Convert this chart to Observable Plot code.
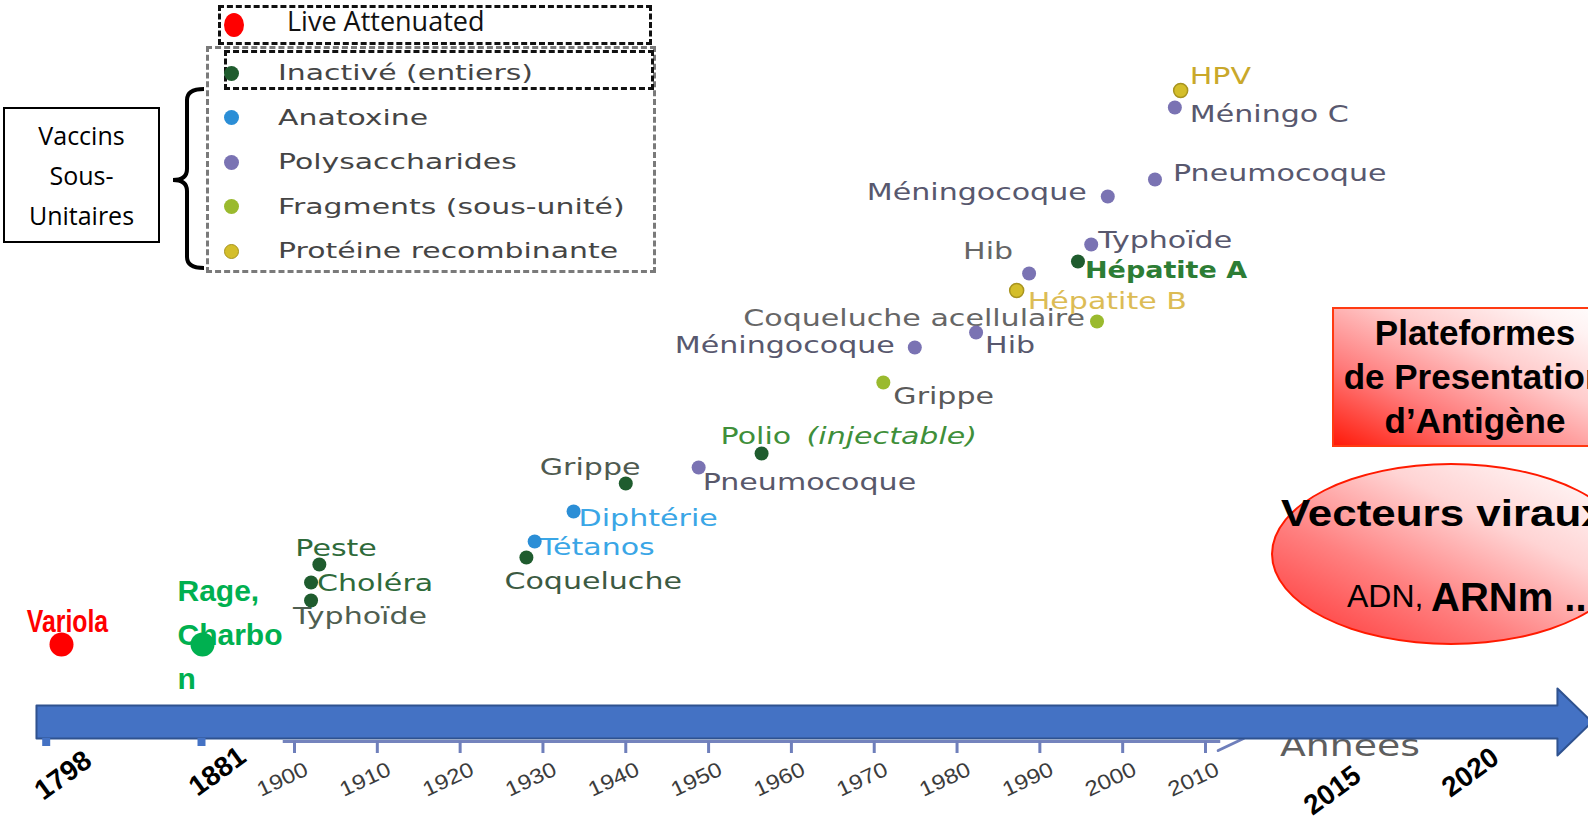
<!DOCTYPE html>
<html>
<head>
<meta charset="utf-8">
<script src="https://cdn.jsdelivr.net/npm/d3@7"></script>
<script src="https://cdn.jsdelivr.net/npm/@observablehq/plot@0.6"></script>
<style>
*{box-sizing:border-box}
html,body{margin:0;padding:0;background:#fff;overflow:hidden}
#wrap{position:relative;width:1588px;height:816px;overflow:hidden;background:#fff}
#chart svg{display:block;position:absolute;left:0;top:0}
.abs{position:absolute}
.leg-text{position:absolute;font-family:"DejaVu Sans";font-size:21.5px;line-height:30px;color:#454545;white-space:nowrap;transform:scaleX(1.39);transform-origin:0 50%}
.leg-dot{position:absolute;width:15px;height:15px;border-radius:50%}
</style>
</head>
<body>
<div id="wrap">
  <div id="under"></div>
  <div id="chart"></div>
  <div id="overlay"></div>
</div>
<script>
// ---------- DATA ----------
const earlyNames  = ["Variola", "Rage,\nCharbo\nn"];
const earlyYears  = [1798, 1881];
const earlyLevels = [172, 172];

const typeNames = ["Inactivé (entiers)", "Anatoxine", "Polysaccharides", "Fragments (sous-unité)", "Protéine recombinante"];
const liveLabel = "Live Attenuated";
const subunitLabel = ["Vaccins", "Sous-", "Unitaires"];

const vaccineNames = ["Peste", "Choléra", "Typhoïde", "Grippe", "Diphtérie", "Tétanos", "Coqueluche",
  "Pneumocoque", "Polio", "Grippe", "Méningocoque", "Coqueluche acellulaire", "Hib", "Hépatite B",
  "Hib", "Hépatite A", "Typhoïde", "Méningocoque", "Pneumocoque", "Méningo C", "HPV"];
const vaccineYears = [1903, 1902, 1902, 1940, 1933.7, 1929, 1928,
  1948.8, 1956.4, 1971.1, 1974.9, 1996.9, 1982.3, 1987.2,
  1988.7, 1994.6, 1996.2, 1998.2, 2003.9, 2006.3, 2007];
const vaccineLevels = [252, 234, 216, 333, 305, 275, 259,
  349, 363, 434, 469, 495, 484, 526,
  543, 555, 572, 620, 637, 709, 726];
const vaccineTypes = [0, 0, 0, 0, 1, 1, 0,
  2, 0, 3, 2, 3, 2, 4,
  2, 0, 2, 2, 2, 2, 4];
const polioSuffix = "(injectable)";

const majorTicks  = [1798, 1881, 2015, 2020];
const decadeTicks = [1900, 1910, 1920, 1930, 1940, 1950, 1960, 1970, 1980, 1990, 2000, 2010];
const axisTitle = "Années";

const platformLines = ["Plateformes", "de Presentation", "d’Antigène"];
const vectorLine = "Vecteurs viraux";
const nucleicParts = ["ADN,", "ARNm ..."];

// ---------- STYLES / LAYOUT (not data) ----------
const typeColors = ["#1f5c2e", "#2b8ed6", "#7a73b3", "#9aba2e", "#d4be2a"];
const earlyColors = ["#ff0000", "#00b050"];
const xDomain = [majorTicks[0], majorTicks[1], decadeTicks[0], decadeTicks[decadeTicks.length - 1], majorTicks[2], majorTicks[3]];
const xRange  = [45.7, 201, 294, 1205, 1332, 1470];

const labelLayout = [
  {dx: -24, dy: -16, a: "start", c: "#2e6a3a"},
  {dx: 6,   dy: 1,   a: "start", c: "#2e6a3a"},
  {dx: -18, dy: 16,  a: "start", c: "#4f5e50"},
  {dx: -86, dy: -16, a: "start", c: "#4f5a50"},
  {dx: 5,   dy: 7,   a: "start", c: "#3aa6e6"},
  {dx: 5,   dy: 6,   a: "start", c: "#3aa6e6"},
  {dx: -22, dy: 24,  a: "start", c: "#3c5a42"},
  {dx: 4,   dy: 15,  a: "start", c: "#58586a"},
  {dx: -41, dy: -17, a: "start", c: "#3f8f3a"},
  {dx: 10,  dy: 14,  a: "start", c: "#5a5a5a"},
  {dx: -20, dy: -2,  a: "end",   c: "#58586e"},
  {dx: -12, dy: -3,  a: "end",   c: "#666666"},
  {dx: 9,   dy: 13,  a: "start", c: "#58586e"},
  {dx: 11,  dy: 11,  a: "start", c: "#dcbc55"},
  {dx: -16, dy: -22, a: "end",   c: "#666666"},
  {dx: 7,   dy: 9,   a: "start", c: "#2d7d35", w: "bold", k: 1.15},
  {dx: 7,   dy: -4,  a: "start", c: "#58586e"},
  {dx: -21, dy: -4,  a: "end",   c: "#58586e"},
  {dx: 18,  dy: -6,  a: "start", c: "#58586e"},
  {dx: 15,  dy: 7,   a: "start", c: "#58586e"},
  {dx: 9,   dy: -14, a: "start", c: "#c9a82a"}
];
const majorLabelLayout = [{dx: 17, y: 41}, {dx: 16, y: 45}, {dx: 0, y: 26}, {dx: 0, y: 44}];
const arrowGeom = {x0: 1792.8, x1: 2023.15, tip: 2024.4, top: 111, bot: 78, headTop: 128, headBot: 61, mid: 94.5};

// ---------- TABLES ----------
const vaccines = vaccineNames.map((name, i) => ({name, year: vaccineYears[i], level: vaccineLevels[i], type: typeNames[vaccineTypes[i]]}));
const early = earlyNames.map((name, i) => ({name, year: earlyYears[i], level: earlyLevels[i]}));
const A = arrowGeom;
const arrowPts = [
  {x: A.x0, y: A.bot}, {x: A.x1, y: A.bot}, {x: A.x1, y: A.headBot}, {x: A.tip, y: A.mid},
  {x: A.x1, y: A.headTop}, {x: A.x1, y: A.top}, {x: A.x0, y: A.top}
];

const marks = [];
const stretchByMark = new Map();
function add(mark, k) { if (k) stretchByMark.set(marks.length, k); marks.push(mark); }

// secondary (decade) axis
add(Plot.ruleY([75], {x1: 1897.7, x2: 2010.6, stroke: "#7483bd", strokeWidth: 3}));
add(Plot.ruleX(decadeTicks, {x: d => d, y1: 63, y2: 75, stroke: "#6f7fbb", strokeWidth: 3}));
add(Plot.line([{x: 2010.5, y: 66}, {x: 2011.5, y: 78}], {x: "x", y: "y", stroke: "#6f7fbb", strokeWidth: 3}));
// big arrow
add(Plot.line(arrowPts, {x: "x", y: "y", fill: "#4472c4", stroke: "#2f528f", strokeWidth: 2, curve: "linear-closed"}));
add(Plot.ruleX(majorTicks.slice(0, 2), {x: d => d, y1: 70, y2: 78, stroke: "#4472c4", strokeWidth: 8}));
// decade labels
add(Plot.text(decadeTicks, {x: d => d, y: 37, dx: -12, text: d => String(d), rotate: -25,
  fontFamily: "Liberation Sans", fontSize: 21, fill: "#3c3c3c"}), 1.15);
// major labels
majorTicks.forEach((t, i) => {
  add(Plot.text([t], {x: d => d, y: majorLabelLayout[i].y, dx: majorLabelLayout[i].dx, text: d => String(d),
    rotate: -36, fontFamily: "Liberation Sans", fontWeight: "bold", fontSize: 28, fill: "#000"}));
});
// early vaccines
add(Plot.text([early[0]], {x: "year", y: "level", text: "name", dx: 21.3, dy: -22,
  fontFamily: "Liberation Sans", fontWeight: "bold", fontSize: 31, fill: earlyColors[0]}), 0.8);
add(Plot.text([early[1]], {x: "year", y: "level", text: "name", dx: -24, dy: -75, textAnchor: "start",
  lineAnchor: "top", lineHeight: 1.47, fontFamily: "Liberation Sans", fontWeight: "bold", fontSize: 30, fill: earlyColors[1]}));
add(Plot.dot([early[0]], {x: "year", y: "level", r: 12, fill: earlyColors[0], dx: 15.3}));
add(Plot.dot([early[1]], {x: "year", y: "level", r: 12, fill: earlyColors[1], dx: 1}));
// vaccine labels
vaccines.forEach((d, i) => {
  const L = labelLayout[i];
  add(Plot.text([d], {x: "year", y: "level", text: "name", dx: L.dx, dy: L.dy, textAnchor: L.a,
    fontFamily: "DejaVu Sans", fontSize: 23.5, fontWeight: L.w || "normal", fill: L.c}), L.k || 1.28);
});
const polio = vaccines[8];
add(Plot.text([polio], {x: "year", y: "level", text: () => polioSuffix, dx: 45, dy: -17, textAnchor: "start",
  fontFamily: "DejaVu Sans", fontSize: 23.5, fontStyle: "italic", fill: "#3f8f3a"}), 1.28);
// vaccine dots
add(Plot.dot(vaccines, {x: "year", y: "level", r: 7, fill: "type"}));
add(Plot.dot(vaccines.filter(d => d.type === typeNames[4]), {x: "year", y: "level", r: 7, fill: "type", stroke: "#a89420", strokeWidth: 1.5}));

const plot = Plot.plot({
  width: 1588, height: 816, margin: 0,
  x: {type: "linear", domain: xDomain, range: xRange, axis: null},
  y: {domain: [0, 816], range: [816, 0], axis: null},
  color: {domain: typeNames, range: typeColors},
  style: {background: "transparent", overflow: "visible"},
  marks
});
document.getElementById("chart").appendChild(plot);

// horizontal stretch of the (stretched-looking) texts, about their own anchor
function stretchText(el, k) {
  const t = el.getAttribute("transform") || "";
  const x = +el.getAttribute("x") || 0, y = +el.getAttribute("y") || 0;
  el.setAttribute("transform", `${t} translate(${x},${y}) scale(${k},1) translate(${-x},${-y})`);
}
const groups = Array.from(plot.children).filter(n => n.tagName.toLowerCase() === "g");
if (groups.length === marks.length) {
  groups.forEach((g, i) => {
    const k = stretchByMark.get(i);
    if (k) g.querySelectorAll("text").forEach(el => stretchText(el, k));
  });
} else {
  const decadeStr = decadeTicks.map(String);
  plot.querySelectorAll("text").forEach(el => {
    const s = el.textContent.normalize("NFC");
    let k = null;
    if (s === "Hépatite A".normalize("NFC")) k = 1.15;
    else if (vaccineNames.map(v => v.normalize("NFC")).includes(s) || s === polioSuffix) k = 1.28;
    else if (decadeStr.includes(s)) k = 1.15;
    else if (s === earlyNames[0]) k = 0.8;
    if (k) stretchText(el, k);
  });
}

// axis title, placed beneath the chart so the arrow hides its top (position from the x scale)
const xs = plot.scale("x");
const titleLeft = (xs.apply ? xs.apply(decadeTicks[decadeTicks.length - 1]) : 1205) + 75;
document.getElementById("under").innerHTML =
  `<div class="abs" style="left:${titleLeft}px;top:731px;line-height:30px;font-family:'DejaVu Sans';font-size:30px;color:#5e5e5e;white-space:nowrap;transform:scaleX(1.26);transform-origin:0 50%">${axisTitle}</div>`;

// ---------- OVERLAYS (legend, boxes) ----------
const ov = document.getElementById("overlay");
let html = "";
html += `<svg class="abs" style="left:0;top:0" width="1588" height="816"><path d="M204,89 Q187,89 187,100 L187,169 Q187,180 173,180 Q187,180 187,191 L187,257 Q187,268 204,268" fill="none" stroke="#000" stroke-width="4"/></svg>`;
html += `<div class="abs" style="left:3px;top:107px;width:157px;height:136px;border:2px solid #000;display:flex;flex-direction:column;align-items:center;justify-content:center;font-family:'Open Sans';font-size:25px;line-height:40px;color:#000">${subunitLabel.map(s => `<div>${s}</div>`).join("")}</div>`;
html += `<div class="abs" style="left:206px;top:46px;width:450px;height:227px;border:3px dashed #7a7a7a"></div>`;
html += `<div class="abs" style="left:218px;top:5px;width:434px;height:40px;border:3px dashed #111"></div>`;
html += `<div class="abs" style="left:224px;top:50px;width:430px;height:40px;border:3px dashed #111"></div>`;
html += `<div class="abs" style="left:224px;top:13px;width:20px;height:24px;border-radius:50%;background:#ff0000"></div>`;
html += `<div class="abs" style="left:287px;top:1px;height:40px;line-height:40px;font-family:'Open Sans';font-size:27px;color:#111;white-space:nowrap">${liveLabel}</div>`;
typeNames.forEach((name, i) => {
  const cy = 73 + i * 44.5;
  const ring = i === 4 ? "border:1.5px solid #a89420;" : "";
  html += `<div class="leg-dot" style="left:224px;top:${cy - 7.5}px;background:${typeColors[i]};${ring}"></div>`;
  html += `<div class="leg-text" style="left:278px;top:${cy - 15}px">${name}</div>`;
});
// platform box
html += `<div class="abs" style="left:1332px;top:307px;width:290px;height:140px;border:2.5px solid #ff3a12;background:linear-gradient(to top right,#ff1a0a 0%,#ff7a7a 30%,#ffcccc 60%,#fff3f3 85%,#ffffff 100%)"></div>`;
html += `<div class="abs" style="left:1275px;top:311px;width:400px;text-align:center;font-family:'Liberation Sans';font-weight:bold;font-size:35px;line-height:44px;color:#000">${platformLines.map(s => `<div style="white-space:nowrap">${s}</div>`).join("")}</div>`;
// ellipse
html += `<div class="abs" style="left:1271px;top:463px;width:360px;height:182px;border-radius:50%;border:2px solid #ff1a00;background:linear-gradient(to top right,#ff3030 0%,#ff8080 35%,#ffd4d4 65%,#fff6f6 90%,#ffffff 100%)"></div>`;
html += `<div class="abs" style="left:1281px;top:496px;font-family:'Liberation Sans';font-weight:bold;font-size:36px;line-height:36px;color:#000;white-space:nowrap;transform:scaleX(1.22);transform-origin:0 50%">${vectorLine}</div>`;
html += `<div class="abs" style="left:1347px;top:574px;height:44px;line-height:44px;font-family:'Liberation Sans';font-size:32px;color:#000;white-space:nowrap">${nucleicParts[0]}</div>`;
html += `<div class="abs" style="left:1431px;top:575px;height:44px;line-height:44px;font-family:'Liberation Sans';font-weight:bold;font-size:40px;color:#000;white-space:nowrap">${nucleicParts[1]}</div>`;
ov.innerHTML = html;
</script>
</body>
</html>
